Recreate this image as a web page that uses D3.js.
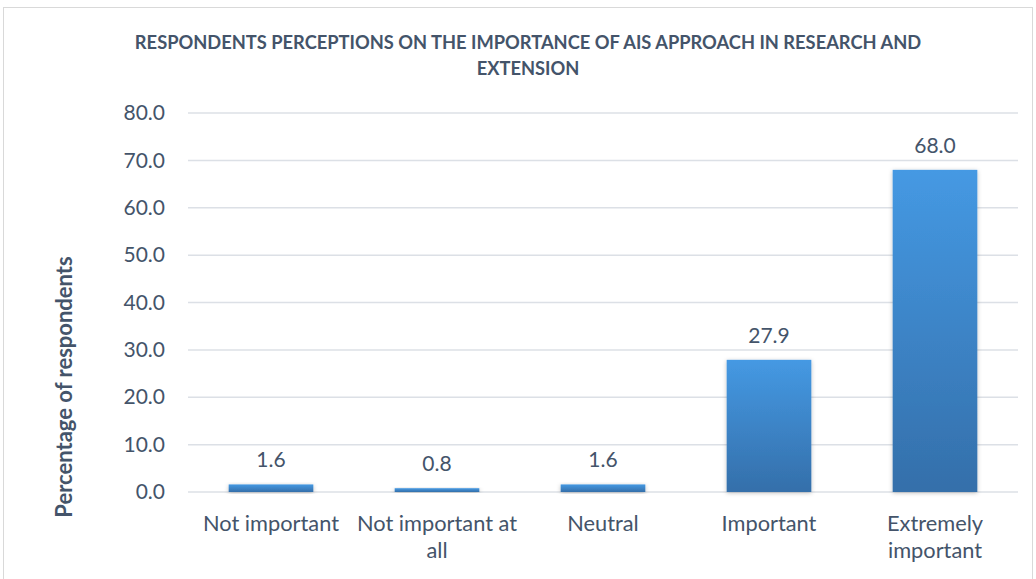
<!DOCTYPE html>
<html>
<head>
<meta charset="utf-8">
<script src="https://cdn.jsdelivr.net/npm/d3@7"></script>
<style>
  body { margin: 0; background: #fff; }
  text { font-family: Lato, "Open Sans", sans-serif; fill: #44546A; }
</style>
</head>
<body>
<script>
// chart data
var categories = ["Not important", "Not important at all", "Neutral", "Important", "Extremely important"];
var values = [1.6, 0.8, 1.6, 27.9, 68.0];
var yTicks = [0, 10, 20, 30, 40, 50, 60, 70, 80];
var titleLines = ["RESPONDENTS PERCEPTIONS ON THE IMPORTANCE OF AIS APPROACH IN RESEARCH AND", "EXTENSION"];
var yLabel = "Percentage of respondents";

var width = 1036, height = 579;

var svg = d3.select("body").append("svg")
  .attr("width", width)
  .attr("height", height);

//gradient for bars
var defs = svg.append("defs");
var grad = defs.append("linearGradient")
  .attr("id", "barGrad")
  .attr("x1", 0).attr("y1", 0).attr("x2", 0).attr("y2", 1);
grad.append("stop").attr("offset", "0%").attr("stop-color", "#4599E3");
grad.append("stop").attr("offset", "100%").attr("stop-color", "#346FAA");

var shadow = defs.append("filter").attr("id", "shadow")
  .attr("x", "-20%").attr("y", "-20%").attr("width", "140%").attr("height", "140%");
shadow.append("feDropShadow")
  .attr("dx", 0).attr("dy", 1).attr("stdDeviation", 2)
  .attr("flood-color", "#000").attr("flood-opacity", 0.25);

//chart border
svg.append("rect")
  .attr("x", 3.5).attr("y", 7.5)
  .attr("width", 1029).attr("height", 580)
  .attr("fill", "none")
  .attr("stroke", "#D9D9D9");

var x = d3.scaleBand()
  .domain(categories)
  .range([188, 1018])
  .paddingInner(0.49)
  .paddingOuter(0.245);

var y = d3.scaleLinear()
  .domain([0, 80])
  .range([492, 113]);

//gridlines
svg.selectAll(".grid")
  .data(yTicks)
  .enter()
  .append("line")
  .attr("class", "grid")
  .attr("x1", 188).attr("x2", 1018)
  .attr("y1", function(d) { return y(d); })
  .attr("y2", function(d) { return y(d); })
  .attr("stroke", "#DCE0E6")
  .attr("stroke-width", 1.5);

//y axis labels
var yAxis = svg.append("g")
  .attr("transform", "translate(165,0)")
  .call(d3.axisLeft(y).tickValues(yTicks).tickSize(0).tickFormat(d3.format(".1f")));
yAxis.select(".domain").remove();
yAxis.selectAll("text")
  .attr("x", 0)
  .style("font-size", "21px")
  .style("fill", "#44546A")
  .style("font-family", "Lato, sans-serif");

//bars
svg.selectAll(".bar")
  .data(values)
  .enter()
  .append("rect")
  .attr("class", "bar")
  .attr("x", function(d, i) { return x(categories[i]); })
  .attr("y", function(d) { return y(d); })
  .attr("width", x.bandwidth())
  .attr("height", function(d) { return y(0) - y(d); })
  .attr("fill", "url(#barGrad)")
  .attr("filter", "url(#shadow)");

//value labels
svg.selectAll(".val")
  .data(values)
  .enter()
  .append("text")
  .attr("class", "val")
  .attr("x", function(d, i) { return x(categories[i]) + x.bandwidth() / 2; })
  .attr("y", function(d) { return y(d) - 17; })
  .attr("text-anchor", "middle")
  .style("font-size", "21px")
  .text(function(d) { return d.toFixed(1); });

//category labels (wrapped)
var wrapped = {
  "Not important at all": ["Not important at", "all"],
  "Extremely important": ["Extremely", "important"]
};
categories.forEach(function(c) {
  var lines = wrapped[c] || [c];
  var t = svg.append("text")
    .attr("x", x(c) + x.bandwidth() / 2)
    .attr("y", 531)
    .attr("text-anchor", "middle")
    .style("font-size", "21.8px");
  lines.forEach(function(l, i) {
    t.append("tspan")
      .attr("x", x(c) + x.bandwidth() / 2)
      .attr("dy", i == 0 ? 0 : 27)
      .text(l);
  });
});

//title
titleLines.forEach(function(l, i) {
  svg.append("text")
    .attr("x", 528)
    .attr("y", 49 + i * 26)
    .attr("text-anchor", "middle")
    .style("font-size", "18.3px")
    .style("font-weight", "bold")
    .text(l);
});

//y axis title
svg.append("text")
  .attr("transform", "translate(72,387) rotate(-90)")
  .attr("text-anchor", "middle")
  .style("font-size", "22px")
  .style("font-weight", "bold")
  .text(yLabel);
</script>
</body>
</html>
